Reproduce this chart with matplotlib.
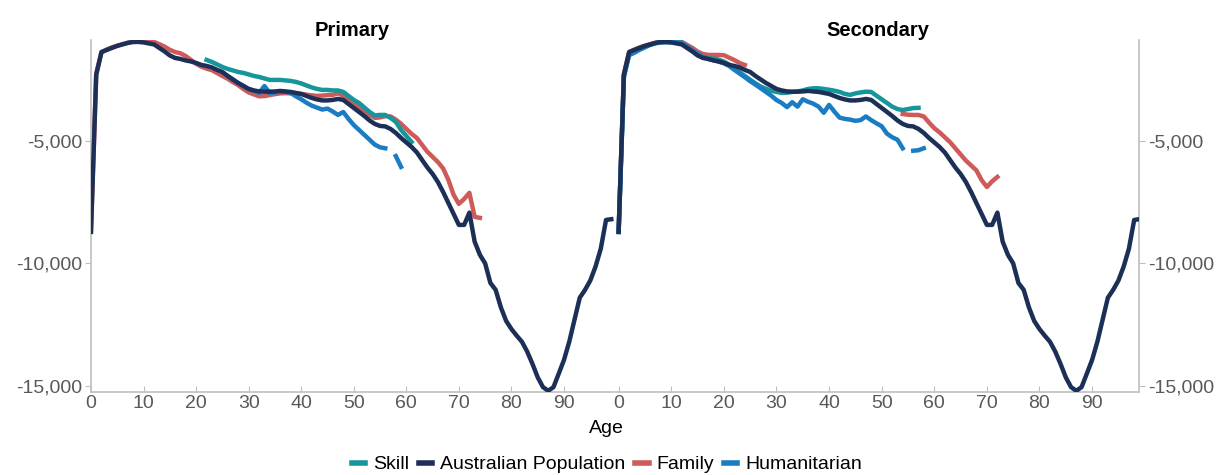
import numpy as np
import matplotlib
matplotlib.use('Agg')
import matplotlib.pyplot as plt
from matplotlib.lines import Line2D

nan = np.nan

# Australian Population, ages 0-99 (same line in both panels)
pop_age = np.arange(0, 100)
pop = [-8715, -2300, -1370, -1285, -1204, -1122, -1061, -1000, -959, -959,
       -979, -1020, -1061, -1204, -1347, -1510, -1612, -1653, -1714, -1755,
       -1816, -1898, -1939, -2000, -2102, -2184, -2347, -2490, -2633, -2755,
       -2877, -2939, -2979, -2990, -2990, -2980, -2959, -2980, -3000, -3041,
       -3082, -3163, -3245, -3306, -3347, -3347, -3326, -3286, -3326, -3490,
       -3653, -3816, -3980, -4163, -4306, -4388, -4408, -4510, -4673, -4878,
       -5061, -5245, -5469, -5776, -6082, -6347, -6674, -7082, -7531, -7980,
       -8429, -8429, -7927, -9110, -9650, -10000, -10800, -11080, -11800, -12350,
       -12680, -12950, -13200, -13600, -14100, -14650, -15050, -15200, -15050, -14500,
       -13940, -13200, -12300, -11400, -11082, -10700, -10131, -9400, -8225, -8196]

# Primary
skill_p_age = np.arange(22, 62)
skill_p = [-1694, -1775, -1877, -1979, -2061, -2122, -2184, -2224, -2286, -2347,
           -2388, -2449, -2510, -2510, -2510, -2530, -2551, -2592, -2653, -2735,
           -2816, -2877, -2918, -2918, -2939, -2939, -3000, -3163, -3326, -3449,
           -3633, -3816, -3959, -3939, -3939, -4061, -4224, -4551, -4796, -5041]

family_p_age = np.arange(0, 75)
family_p = [-8700, -2250, -1380, -1270, -1180, -1110, -1050, -990, -960, -950,
            -940, -940, -960, -1050, -1150, -1280, -1370, -1420, -1530, -1690,
            -1850, -1970, -2050, -2110, -2230, -2350, -2460, -2600, -2720, -2880,
            -3020, -3100, -3180, -3170, -3130, -3090, -3060, -3050, -3060, -3070,
            -3080, -3110, -3140, -3160, -3150, -3130, -3120, -3060, -3150, -3300,
            -3450, -3650, -3780, -3940, -4060, -4040, -3990, -4000, -4130, -4300,
            -4510, -4710, -4880, -5160, -5440, -5650, -5860, -6120, -6590, -7200,
            -7570, -7370, -7120, -8100, -8140]

human_p_age = np.arange(26, 60)
human_p = [-2350, -2500, -2640, -2760, -2880, -2960, -3040, -2760, -3040, -3020,
           -2990, -3000, -3040, -3180, -3300, -3440, -3560, -3640, -3720, -3680,
           -3800, -3940, -3820, -4100, -4350, -4550, -4750, -4950, -5150, -5260,
           -5300, nan, -5620, -6060]

# Secondary
skill_s_age = np.arange(0, 58)
skill_s = [-8715, -2350, -1450, -1330, -1230, -1150, -1070, -1010, -970, -960,
           -960, -960, -990, -1150, -1300, -1450, -1560, -1620, -1640, -1680,
           -1760, -1880, -2050, -2200, -2350, -2500, -2650, -2780, -2870, -2950,
           -3000, -3040, -3030, -3000, -2980, -2940, -2880, -2850, -2850, -2880,
           -2910, -2950, -3000, -3080, -3120, -3060, -3020, -2990, -3000, -3150,
           -3300, -3450, -3600, -3700, -3740, -3700, -3660, -3650]

family_s_age = np.arange(0, 73)
family_s = [-8700, -2250, -1380, -1270, -1180, -1110, -1050, -990, -960, -950,
            -940, -940, -960, -1080, -1200, -1350, -1450, -1490, -1490, -1490,
            -1500, -1600, -1700, -1820, -1900] + [nan] * 29 + \
           [-3900, -3930, -3940, -3940, -4000, -4250, -4480, -4650, -4850, -5050,
            -5300, -5550, -5800, -6000, -6200, -6600, -6880, -6650, -6470]

human_s_age = np.arange(0, 59)
human_s = [-8715, -2400, -1500, -1400, -1280, -1180, -1080, -1010, -980, -970,
           -970, -980, -1000, -1150, -1300, -1450, -1570, -1650, -1700, -1760,
           -1830, -1940, -2100, -2250, -2400, -2560, -2700, -2850, -3000, -3150,
           -3330, -3450, -3620, -3420, -3600, -3300, -3400, -3480, -3600, -3850,
           -3530, -3800, -4050, -4100, -4130, -4180, -4150, -4000, -4150, -4280,
           -4400, -4700, -4850, -4950, -5300, nan, -5400, -5380, -5300]

teal = '#16969a'
navy = '#1c2f57'
red = '#cf5a5a'
blue = '#1a7cc3'
grey = '#bfbfbf'

plt.rcParams['font.family'] = ['Liberation Sans', 'DejaVu Sans']
fig = plt.figure(figsize=(12.21, 4.75), dpi=100)
ax1 = fig.add_axes([0.0745, 0.1747, 0.4283, 0.7411])
ax2 = fig.add_axes([0.5045, 0.1747, 0.4287, 0.7411])

lw = 3.2
panels = [
    (ax1, 'Primary', (skill_p_age, skill_p), (family_p_age, family_p), (human_p_age, human_p)),
    (ax2, 'Secondary', (skill_s_age, skill_s), (family_s_age, family_s), (human_s_age, human_s)),
]
for ax, title, sk, fa, hu in panels:
    ax.plot(fa[0], fa[1], color=red, lw=lw, zorder=2)
    ax.plot(sk[0], sk[1], color=teal, lw=lw, zorder=3)
    ax.plot(hu[0], hu[1], color=blue, lw=lw, zorder=4)
    ax.plot(pop_age, pop, color=navy, lw=lw, zorder=5)
    ax.set_title(title, fontsize=14.5, fontweight='bold', pad=2)
    ax.set_ylim(-15250, -880)
    ax.set_xticks(range(0, 100, 10))
    ax.set_yticks([-15000, -10000, -5000])
    ax.set_yticklabels(['-15,000', '-10,000', '-5,000'])
    ax.tick_params(axis='x', direction='in', length=4, color=grey, labelsize=14,
                   labelcolor='#595959', pad=2)
    ax.tick_params(axis='y', direction='out', length=4, color=grey, labelsize=14,
                   labelcolor='#595959', pad=2)
    ax.spines['top'].set_visible(False)
    for s in ax.spines.values():
        s.set_color(grey)
        s.set_linewidth(1.2)

ax1.set_xlim(0, 99.5)
ax1.spines['right'].set_visible(False)
ax2.set_xlim(-0.5, 99)
ax2.spines['left'].set_visible(False)
ax2.yaxis.tick_right()

fig.text(0.497, 0.098, 'Age', ha='center', va='center', fontsize=14)

handles = [Line2D([], [], color=c, lw=4) for c in [teal, navy, red, blue]]
fig.legend(handles, ['Skill', 'Australian Population', 'Family', 'Humanitarian'],
           loc='center', bbox_to_anchor=(0.497, 0.022), ncol=4, frameon=False,
           fontsize=14, handlelength=0.7, handletextpad=0.4, columnspacing=0.5,
           borderaxespad=0)

fig.savefig('out.png', dpi=100)
